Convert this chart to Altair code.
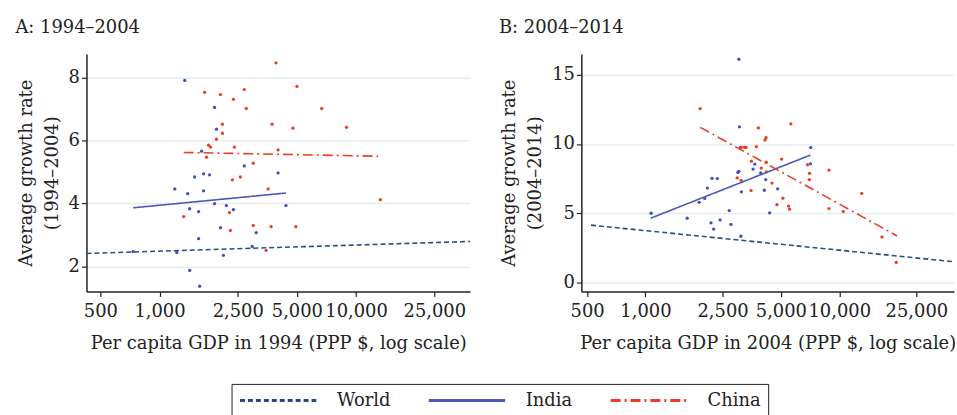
import altair as alt
import pandas as pd

FONT = "DejaVu Serif, serif"
INK = "#222222"

SERIES = ["World", "India", "China"]
LINE_COLORS = ["#25507a", "#4a58b6", "#ee3b25"]
LINE_DASH = [[5, 3], [1, 0], [10, 4, 2, 4]]
POINT_BLUE = "#4050c2"
POINT_RED = "#f03c26"

X_TICKS = [500, 1000, 2500, 5000, 10000, 25000]

# ---- Panel A: 1994-2004 ----
a_india_gdp = [1344, 1905, 1949, 1637, 1509, 1676, 1797, 2700, 4010, 1196, 1392, 1676,
               1424, 1581, 1905, 2189, 2376, 4398, 2042, 3104, 1581, 734, 1224, 2963,
               2114, 1424, 1600]
a_india_growth = [7.91, 7.05, 6.36, 5.66, 4.84, 4.94, 4.91, 5.19, 4.97, 4.46, 4.31, 4.40,
                  3.83, 3.74, 3.99, 3.93, 3.80, 3.93, 3.23, 3.07, 2.88, 2.47, 2.44, 2.63,
                  2.35, 1.87, 1.37]
a_china_gdp = [3916, 1696, 2042, 2700, 5000, 2376, 2763, 6689, 2090, 3738, 2090, 4773,
               8942, 1949, 1776, 1818, 2403, 4010, 1735, 2998, 2577, 2348, 3569, 13285,
               1328, 2268, 2293, 2998, 3696, 4943, 3486]
a_china_growth = [8.47, 7.53, 7.46, 7.62, 7.72, 7.31, 7.02, 7.02, 6.52, 6.52, 6.23, 6.39,
                  6.42, 6.04, 5.85, 5.79, 5.79, 5.70, 5.47, 5.28, 4.84, 4.75, 4.46, 4.12,
                  3.58, 3.71, 3.14, 3.30, 3.26, 3.26, 2.51]
# fitted lines: start/end of each series
a_fit_series = ["World", "World", "India", "India", "China", "China"]
a_fit_gdp = [425, 38000, 734, 4400, 1327, 12950]
a_fit_growth = [2.41, 2.79, 3.86, 4.33, 5.62, 5.50]

# ---- Panel B: 2004-2014 ----
b_india_gdp = [3035, 3055, 3092, 7125, 7100, 3665, 3592, 2999, 3035, 3934, 2206, 2349,
               4175, 2087, 3128, 4106, 4810, 1892, 2022, 1069, 1642, 2180, 2706, 2425,
               2761, 2248, 3107, 4375]
b_india_growth = [16.12, 11.24, 9.76, 9.74, 8.57, 8.55, 8.19, 7.95, 8.02, 7.91, 7.52, 7.50,
                  7.43, 6.82, 6.55, 6.66, 6.76, 5.79, 6.07, 5.00, 4.64, 4.31, 5.19, 4.52,
                  4.19, 3.86, 3.34, 5.02]
b_china_gdp = [1915, 3824, 5628, 4189, 4140, 3128, 3242, 3308, 3734, 5042, 3521, 4204,
               6855, 8846, 3962, 4204, 7019, 7019, 2974, 3117, 4495, 13060, 3509, 5119,
               4769, 5476, 5542, 8846, 10485, 16615, 19674]
b_china_growth = [12.55, 11.16, 11.45, 10.45, 10.29, 9.76, 9.76, 9.76, 9.81, 8.91, 8.76, 8.69,
                  8.50, 8.12, 8.26, 7.98, 7.88, 7.43, 7.55, 7.38, 7.18, 6.43, 6.64, 6.09,
                  5.62, 5.52, 5.29, 5.34, 5.12, 3.29, 1.45]
b_fit_series = ["World", "World", "India", "India", "China", "China"]
b_fit_gdp = [524, 39000, 1064, 7100, 1920, 19900]
b_fit_growth = [4.14, 1.50, 4.64, 9.20, 11.20, 3.36]

# legend key: a long horizontal stroke drawn from a small symbol size,
# so the key row stays one text line tall
LEGEND = alt.Legend(
    orient="none", legendX=146, legendY=332, direction="horizontal",
    title=None, strokeColor=INK, fillColor="white", padding=7,
    symbolType="M-1,0H8.6", symbolSize=256, symbolStrokeWidth=3,
    labelFont=FONT, labelFontSize=18, labelColor=INK,
    columnPadding=32, labelOffset=80,
)


def panel(title, year, x_domain, y_domain, y_ticks, india, china, fit, width, height):
    x_enc = alt.X(
        "gdp:Q",
        scale=alt.Scale(type="log", domain=x_domain, nice=False, zero=False),
        axis=alt.Axis(values=X_TICKS, format=",", grid=False,
                      title=f"Per capita GDP in {year} (PPP $, log scale)"),
    )
    y_enc = alt.Y(
        "growth:Q",
        scale=alt.Scale(domain=y_domain, nice=False, zero=False),
        axis=alt.Axis(values=y_ticks, grid=True,
                      title=["Average growth rate", f"({year}–{year + 10})"]),
    )
    india_df = pd.DataFrame({"gdp": india[0], "growth": india[1]})
    china_df = pd.DataFrame({"gdp": china[0], "growth": china[1]})
    fit_df = pd.DataFrame({"series": fit[0], "gdp": fit[1], "growth": fit[2]})

    india_pts = alt.Chart(india_df).mark_circle(size=11, color=POINT_BLUE, opacity=1).encode(
        x=x_enc, y=y_enc)
    china_pts = alt.Chart(china_df).mark_circle(size=11, color=POINT_RED, opacity=1).encode(
        x=x_enc, y=y_enc)
    lines = alt.Chart(fit_df).mark_line(strokeWidth=1.6).encode(
        x=x_enc,
        y=y_enc,
        detail="series:N",
        color=alt.Color("series:N", scale=alt.Scale(domain=SERIES, range=LINE_COLORS),
                        legend=LEGEND),
        strokeDash=alt.StrokeDash("series:N", scale=alt.Scale(domain=SERIES, range=LINE_DASH),
                                  legend=LEGEND),
    )
    return alt.layer(india_pts, china_pts, lines).properties(
        width=width, height=height,
        title=alt.TitleParams(title, anchor="start", font=FONT, fontSize=18,
                              fontWeight="normal", color=INK, offset=17, dx=-2),
    )


panel_a = panel("A: 1994–2004", 1994, [425, 38000], [1.2, 8.75], [2, 4, 6, 8],
                (a_india_gdp, a_india_growth), (a_china_gdp, a_china_growth),
                (a_fit_series, a_fit_gdp, a_fit_growth), 386, 239)
panel_b = panel("B: 2004–2014", 2004, [467, 39100], [-0.65, 16.5], [0, 5, 10, 15],
                (b_india_gdp, b_india_growth), (b_china_gdp, b_china_growth),
                (b_fit_series, b_fit_gdp, b_fit_growth), 375, 239)

chart = alt.hconcat(panel_a, panel_b, spacing=25).properties(
    padding={"left": 15, "top": 18, "right": 0, "bottom": 0},
).configure_view(
    stroke=None,
).configure_axis(
    labelFont=FONT, labelFontSize=18, labelColor=INK,
    titleFont=FONT, titleFontSize=18, titleColor=INK, titleFontWeight="normal",
    domainColor=INK, domainWidth=1.5, tickColor=INK, tickSize=5, tickWidth=1.2,
    gridColor="#e4eef2", gridWidth=1.5,
).configure_axisY(
    labelPadding=2, titlePadding=7, titleLineHeight=26,
).configure_axisX(
    labelPadding=6, titlePadding=14,
)

chart.save("out.html", embed_options={"renderer": "svg", "actions": False})
